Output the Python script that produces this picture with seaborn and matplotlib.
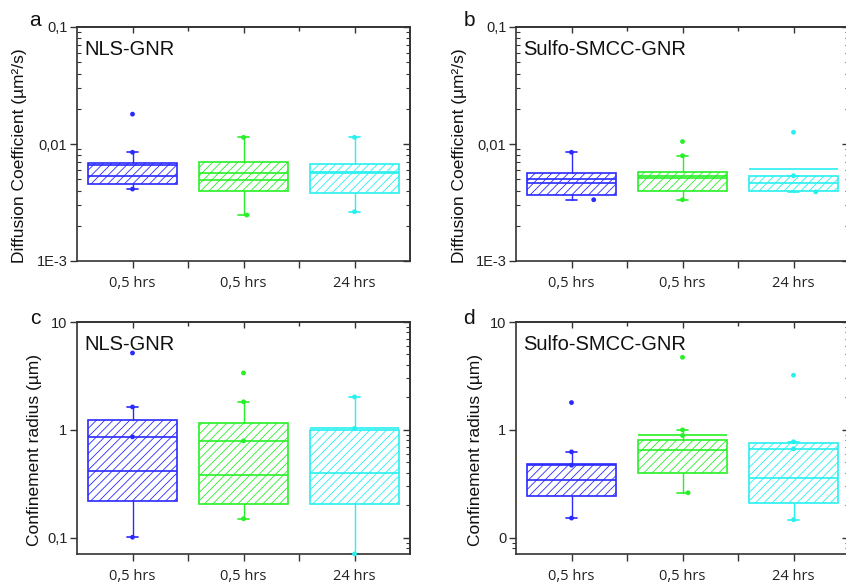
import numpy as np
import pandas as pd
import matplotlib
matplotlib.use("Agg")
import matplotlib.pyplot as plt
from matplotlib.ticker import FixedLocator, FixedFormatter, NullFormatter, NullLocator
import seaborn as sns

# ---------------------------------------------------------------- data
groups = ["0,5 hrs", "0,5 hrs", "24 hrs"]
colors = ["#2a2aff", "#26f026", "#26f0f0"]

# (a) NLS-GNR, diffusion coefficient (um^2/s)
a_q1 = [0.00453, 0.00399, 0.00380]
a_q3 = [0.00689, 0.00697, 0.00679]
a_median = [0.00530, 0.00490, 0.00560]
a_mean = [0.00658, 0.00562, 0.00580]
a_whislo = [0.00412, 0.00247, 0.00264]
a_whishi = [0.00850, 0.01140, 0.01140]
a_pt_group = [0, 0, 0, 1, 1, 2, 2]
a_pt_value = [0.0180, 0.00850, 0.00412, 0.01140, 0.00247, 0.01140, 0.00264]

# (b) Sulfo-SMCC-GNR, diffusion coefficient (um^2/s)
b_q1 = [0.00364, 0.00396, 0.00394]
b_q3 = [0.00569, 0.00580, 0.00536]
b_median = [0.00464, 0.00509, 0.00464]
b_mean = [0.00505, 0.00536, 0.00610]
b_whislo = [0.00334, 0.00334, 0.00390]
b_whishi = [0.00850, 0.00794, 0.00536]
b_pt_group = [0, 0, 1, 1, 1, 2, 2, 2]
b_pt_value = [0.00850, 0.00334, 0.01050, 0.00794, 0.00334, 0.01260, 0.00536, 0.00390]

# (c) NLS-GNR, confinement radius (um)
c_q1 = [0.220, 0.204, 0.204]
c_q3 = [1.240, 1.160, 0.987]
c_median = [0.415, 0.381, 0.400]
c_mean = [0.861, 0.790, 1.040]
c_whislo = [0.101, 0.150, 0.0706]
c_whishi = [1.630, 1.820, 2.020]
c_pt_group = [0, 0, 0, 0, 1, 1, 1, 1, 2, 2, 2]
c_pt_value = [5.16, 1.63, 0.861, 0.101, 3.37, 1.82, 0.790, 0.150, 2.02, 1.03, 0.0706]

# (d) Sulfo-SMCC-GNR, confinement radius (um)
d_q1 = [0.243, 0.394, 0.210]
d_q3 = [0.481, 0.798, 0.758]
d_median = [0.342, 0.645, 0.360]
d_mean = [0.470, 0.887, 0.667]
d_whislo = [0.152, 0.261, 0.147]
d_whishi = [0.625, 1.000, 0.775]
d_pt_group = [0, 0, 0, 0, 1, 1, 1, 1, 2, 2, 2, 2]
d_pt_value = [1.79, 0.625, 0.470, 0.152, 4.71, 1.00, 0.887, 0.261, 3.21, 0.775, 0.667, 0.147]

# horizontal nudges of individual points (in category units)
a_pt_nudge = [0, 0, 0, 0, 0.03, 0, 0]
b_pt_nudge = [0, 0.2, 0, 0, 0, 0, 0, 0.2]
c_pt_nudge = [0] * len(c_pt_group)
d_pt_nudge = [0, 0, 0, 0, 0, 0, 0, 0.05, 0, 0, 0, 0]

# ---------------------------------------------------------------- style
sns.set_theme(style="ticks")
plt.rcParams.update({
    "font.family": ["Liberation Sans", "DejaVu Sans"],
    "hatch.linewidth": 0.6,
    "axes.edgecolor": "#333333",
    "axes.linewidth": 1.2,
    "xtick.color": "#333333",
    "ytick.color": "#333333",
    "xtick.labelcolor": "#222222",
    "ytick.labelcolor": "#222222",
    "axes.labelcolor": "#111111",
})

fig = plt.figure(figsize=(8.46, 5.85), dpi=100)
W, H = 846.0, 585.0


def add_axes(left_px, top_px, width_px, height_px):
    return fig.add_axes([left_px / W, 1 - (top_px + height_px) / H,
                         width_px / W, height_px / H])


def draw_panel(ax, q1, q3, med, mean, lo, hi, pt_group, pt_value, pt_nudge,
               ylim, yticks, yticklabels, ylabel, title, label_x,
               left_minor=None, left_minor_dir="in"):
    ax.set_yscale("log")
    for i in range(3):
        stats = [dict(q1=q1[i], q3=q3[i], med=med[i], mean=mean[i],
                      whislo=lo[i], whishi=hi[i], fliers=[])]
        col = colors[i]
        ax.bxp(stats, positions=[i + 1], widths=0.8, capwidths=0.1,
               patch_artist=True, showmeans=True, meanline=True,
               showfliers=False,
               boxprops=dict(facecolor="none", edgecolor=col, hatch="////",
                             linewidth=1.2),
               medianprops=dict(color=col, linewidth=1.2),
               meanprops=dict(color=col, linewidth=1.2, linestyle="-"),
               whiskerprops=dict(color=col, linewidth=1.0),
               capprops=dict(color=col, linewidth=1.2))

    pts = pd.DataFrame({
        "group": pt_group,
        "value": pt_value,
        "x": [g + 1 + n for g, n in zip(pt_group, pt_nudge)],
    })
    sns.scatterplot(data=pts, x="x", y="value", hue="group",
                    palette={i: colors[i] for i in range(3)},
                    s=12, linewidth=0, legend=False, ax=ax, zorder=5,
                    clip_on=False)

    ax.set_xlim(0.5, 3.5)
    ax.set_ylim(*ylim)
    ax.set_xlabel("")
    ax.xaxis.set_major_locator(FixedLocator([1, 2, 3]))
    ax.xaxis.set_major_formatter(FixedFormatter(groups))
    ax.xaxis.set_minor_locator(FixedLocator([1.5, 2.5]))
    ax.tick_params(axis="x", which="both", direction="out", length=5,
                   width=1.0, pad=6, labelsize=10.5)
    for t in ax.get_xticklabels():
        t.set_fontfamily(["Open Sans", "DejaVu Sans"])

    ax.yaxis.set_major_locator(FixedLocator(yticks))
    ax.yaxis.set_major_formatter(FixedFormatter(yticklabels))
    if left_minor is None:
        ax.yaxis.set_minor_locator(NullLocator())
    else:
        ax.yaxis.set_minor_locator(FixedLocator(left_minor))
    ax.yaxis.set_minor_formatter(NullFormatter())
    ax.tick_params(axis="y", which="major", direction="out", length=5,
                   width=1.0, labelsize=10.5, pad=2)
    ax.tick_params(axis="y", which="minor", direction=left_minor_dir,
                   length=3, width=0.8)

    # mirrored top / right axes with inward ticks
    top = ax.secondary_xaxis("top")
    top.xaxis.set_major_locator(FixedLocator([1, 2, 3]))
    top.xaxis.set_minor_locator(FixedLocator([1.5, 2.5]))
    top.tick_params(which="both", direction="in", length=4, width=1.0,
                    labeltop=False)
    top.tick_params(which="minor", length=3)
    right = ax.secondary_yaxis("right")
    lo_dec = int(np.floor(np.log10(ylim[0])))
    hi_dec = int(np.ceil(np.log10(ylim[1])))
    minors = [m * 10.0 ** d for d in range(lo_dec, hi_dec)
              for m in range(2, 10)
              if ylim[0] <= m * 10.0 ** d <= ylim[1]]
    right.yaxis.set_major_locator(FixedLocator(yticks))
    right.yaxis.set_minor_locator(FixedLocator(minors))
    right.yaxis.set_major_formatter(NullFormatter())
    right.yaxis.set_minor_formatter(NullFormatter())
    right.tick_params(which="major", direction="in", length=5, width=1.0)
    right.tick_params(which="minor", direction="in", length=3, width=0.8)

    for side in ["left", "right", "top", "bottom"]:
        ax.spines[side].set_visible(True)
        ax.spines[side].set_color("#333333")
        ax.spines[side].set_linewidth(1.2)

    ax.set_ylabel(ylabel, fontsize=12.5)
    ax.yaxis.set_label_coords(label_x, 0.45)
    ax.text(0.022, 0.905, title, transform=ax.transAxes, fontsize=14.5,
            ha="left", va="center", color="#111111")


ax_a = add_axes(77, 27, 333, 234)
ax_b = add_axes(516, 27, 333, 234)
ax_c = add_axes(77, 322, 333, 232)
ax_d = add_axes(516, 322, 333, 232)

diff_label = "Diffusion Coefficient (\u00b5m\u00b2/s)"
rad_label = "Confinement radius (\u00b5m)"

draw_panel(ax_a, a_q1, a_q3, a_median, a_mean, a_whislo, a_whishi,
           a_pt_group, a_pt_value, a_pt_nudge,
           (1e-3, 0.1), [1e-3, 1e-2, 1e-1], ["1E-3", "0,01", "0,1"],
           diff_label, "NLS-GNR", -0.15,
           left_minor=[m * 10.0 ** d for d in (-3, -2) for m in range(2, 10)])
draw_panel(ax_b, b_q1, b_q3, b_median, b_mean, b_whislo, b_whishi,
           b_pt_group, b_pt_value, b_pt_nudge,
           (1e-3, 0.1), [1e-3, 1e-2, 1e-1], ["1E-3", "0,01", "0,1"],
           diff_label, "Sulfo-SMCC-GNR", -0.147,
           left_minor=[m * 10.0 ** d for d in (-3, -2) for m in range(2, 10)])
draw_panel(ax_c, c_q1, c_q3, c_median, c_mean, c_whislo, c_whishi,
           c_pt_group, c_pt_value, c_pt_nudge,
           (0.0706, 10), [0.1, 1, 10], ["0,1", "1", "10"],
           rad_label, "NLS-GNR", -0.105)
draw_panel(ax_d, d_q1, d_q3, d_median, d_mean, d_whislo, d_whishi,
           d_pt_group, d_pt_value, d_pt_nudge,
           (0.0706, 10), [0.1, 1, 10], ["0", "1", "10"],
           rad_label, "Sulfo-SMCC-GNR", -0.1,
           left_minor=[0.08, 0.09], left_minor_dir="out")

for letter, (x, y) in zip("abcd", [(35, 20), (469, 20), (35, 319), (469, 319)]):
    fig.text(x / W, 1 - y / H, letter, fontsize=15, ha="center", va="center",
             color="#111111")

fig.savefig("out.png", dpi=100)
